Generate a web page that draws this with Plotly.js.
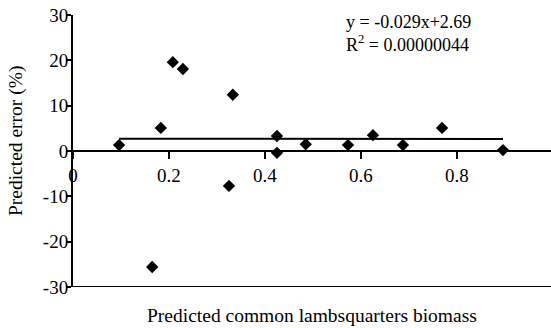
<!DOCTYPE html>
<html>
<head>
<meta charset="utf-8">
<script src="https://cdn.plot.ly/plotly-3.0.1.min.js"></script>
<style>html,body{margin:0;padding:0;background:#fff;}#chart{width:551px;height:328px;}</style>
</head>
<body>
<div id="chart"></div>
<script>
const biomass = [0.096, 0.183, 0.208, 0.229, 0.333, 0.165, 0.325, 0.425, 0.425, 0.485, 0.573, 0.625, 0.6875, 0.769, 0.896];
const predError = [1.3, 5.1, 19.6, 18.1, 12.4, -25.6, -7.7, 3.3, -0.4, 1.5, 1.3, 3.5, 1.3, 5.1, 0.2];
const slope = -0.029;
const intercept = 2.69;
const xTickVals = [0, 0.2, 0.4, 0.6, 0.8];
const xTickText = ["0", "0.2", "0.4", "0.6", "0.8"];
const yTickVals = [-30, -20, -10, 0, 10, 20, 30];
const yTickText = ["-30", "-20", "-10", "0", "10", "20", "30"];
const eqText = "y = -0.029x+2.69";
const r2Text = "R<sup>2</sup> = 0.00000044";
const xTitle = "Predicted common lambsquarters biomass";
const yTitle = "Predicted error (%)";

const xMin = Math.min(...biomass), xMax = Math.max(...biomass);
const fitX = [xMin, xMax];
const fitY = fitX.map(v => slope * v + intercept);

const fam = "Liberation Serif";
const font = {family: fam, size: 18, color: "#000"};
const tickFont = {family: fam, size: 19, color: "#000"};
const titleFont = {family: fam, size: 19.5, color: "#000"};

const data = [
  {x: fitX, y: fitY, mode: "lines", line: {color: "#000", width: 2}, hoverinfo: "skip", showlegend: false},
  {x: biomass, y: predError, mode: "markers", marker: {symbol: "diamond", size: 9.5, color: "#000"}, showlegend: false}
];

const layout = {
  width: 551, height: 328,
  margin: {l: 73, r: 0, t: 15, b: 41},
  paper_bgcolor: "#fff", plot_bgcolor: "#fff",
  font: font,
  showlegend: false,
  xaxis: {
    range: [0, 0.996], anchor: "free", position: 0.5,
    tickvals: xTickVals, ticktext: xTickText,
    showline: true, linecolor: "#000", linewidth: 2,
    ticks: "outside", ticklen: 7, tickwidth: 2, tickcolor: "#000",
    showgrid: false, zeroline: false,
    tickfont: tickFont,
    title: {text: ""}
  },
  yaxis: {
    range: [-30, 30],
    tickvals: yTickVals, ticktext: yTickText,
    showline: true, linecolor: "#000", linewidth: 2,
    ticks: "outside", ticklen: 5, tickwidth: 2, tickcolor: "#000",
    ticklabelstandoff: -6,
    showgrid: false, zeroline: false,
    tickfont: tickFont,
    title: {text: ""}
  },
  shapes: [
    {type: "line", xref: "paper", yref: "y", x0: 0, x1: 1, y0: -30, y1: -30, line: {color: "#000", width: 2}}
  ],
  annotations: [
    {xref: "paper", yref: "paper", x: 0.567, y: 0.974, xanchor: "left", yanchor: "middle", text: eqText, showarrow: false, font: font},
    {xref: "paper", yref: "paper", x: 0.567, y: 0.897, xanchor: "left", yanchor: "middle", text: r2Text, showarrow: false, font: font},
    {xref: "paper", yref: "paper", x: 0.5, y: -0.104, xanchor: "center", yanchor: "middle", text: xTitle, showarrow: false, font: titleFont},
    {xref: "paper", yref: "paper", x: -0.119, y: 0.537, xanchor: "center", yanchor: "middle", textangle: -90, text: yTitle, showarrow: false, font: titleFont}
  ]
};

Plotly.newPlot("chart", data, layout, {displayModeBar: false, staticPlot: true});
</script>
</body>
</html>
